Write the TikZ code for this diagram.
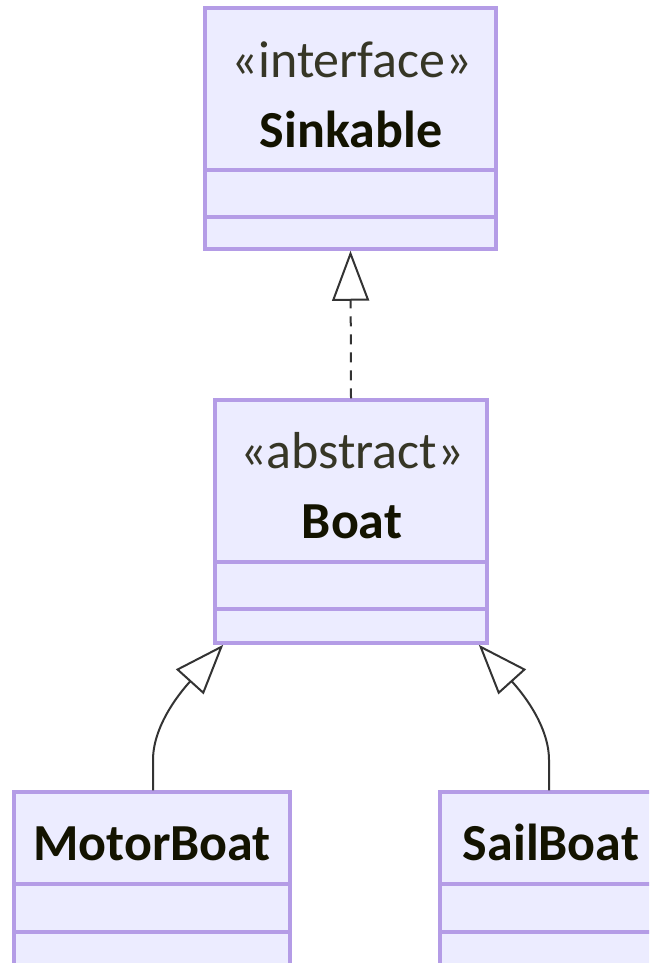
\documentclass[tikz,border=0pt]{standalone}
\usepackage{fontspec}
\setmainfont{Carlito}
\usetikzlibrary{arrows.meta}
\definecolor{cfill}{HTML}{ECECFF}
\definecolor{cstroke}{HTML}{B49CE6}
\definecolor{cline}{HTML}{333333}
\definecolor{ctext}{HTML}{131300}
\tikzset{
  classbox/.style={draw=cstroke, fill=cfill, line width=3.5pt, rectangle, inner sep=0pt},
  divider/.style={draw=cstroke, line width=3.5pt},
  stereo/.style={font=\fontsize{52}{60}\selectfont, text=ctext!85, anchor=base, inner sep=0pt},
  cname/.style={font=\fontsize{52}{60}\selectfont\bfseries, text=ctext, anchor=base, inner sep=0pt},
  inherit/.style={draw=cline, line width=2pt, -{Triangle[open, length=50pt, width=37pt, line width=2pt]}},
  realize/.style={inherit, dash pattern=on 10pt off 8pt}
}
\begin{document}
\begin{tikzpicture}[x=1pt, y=-1pt]
\useasboundingbox (0,0) rectangle (649,963);
\clip (0,0) rectangle (649,963);
% boxes
\node[classbox, minimum width=291pt, minimum height=241pt] (sink) at (350.5,128.5) {};
\node[classbox, minimum width=272pt, minimum height=243pt] (boat) at (351,521.5) {};
\node[classbox, minimum width=276pt, minimum height=188pt] (motor) at (152,886) {};
\node[classbox, minimum width=222pt, minimum height=188pt] (sail) at (551,886) {};
% dividers
\draw[divider] (sink.west |- 0,170) -- (sink.east |- 0,170);
\draw[divider] (sink.west |- 0,217) -- (sink.east |- 0,217);
\draw[divider] (boat.west |- 0,562) -- (boat.east |- 0,562);
\draw[divider] (boat.west |- 0,609) -- (boat.east |- 0,609);
\draw[divider] (motor.west |- 0,884) -- (motor.east |- 0,884);
\draw[divider] (motor.west |- 0,932) -- (motor.east |- 0,932);
\draw[divider] (sail.west |- 0,884) -- (sail.east |- 0,884);
\draw[divider] (sail.west |- 0,932) -- (sail.east |- 0,932);
% texts
\node[stereo] (t1) at (352,78) {«interface»};
\node[cname] (t2) at (351,147) {Sinkable};
\node[stereo] (t3) at (352,468) {«abstract»};
\node[cname] (t4) at (352,538) {Boat};
\node[cname] (t5) at (152,860) {MotorBoat};
\node[cname] (t6) at (551,860) {SailBoat};
% connectors
\draw[realize] (boat.north) -- (sink.south);
\draw[inherit] (motor.north -| 153,0) -- (153,760) .. controls (153,722) and (186,686) .. ([xshift=10pt]boat.south west);
\draw[inherit] (sail.north -| 549,0) -- (549,760) .. controls (549,722) and (516,686) .. ([xshift=-10pt]boat.south east);
\end{tikzpicture}
\end{document}
